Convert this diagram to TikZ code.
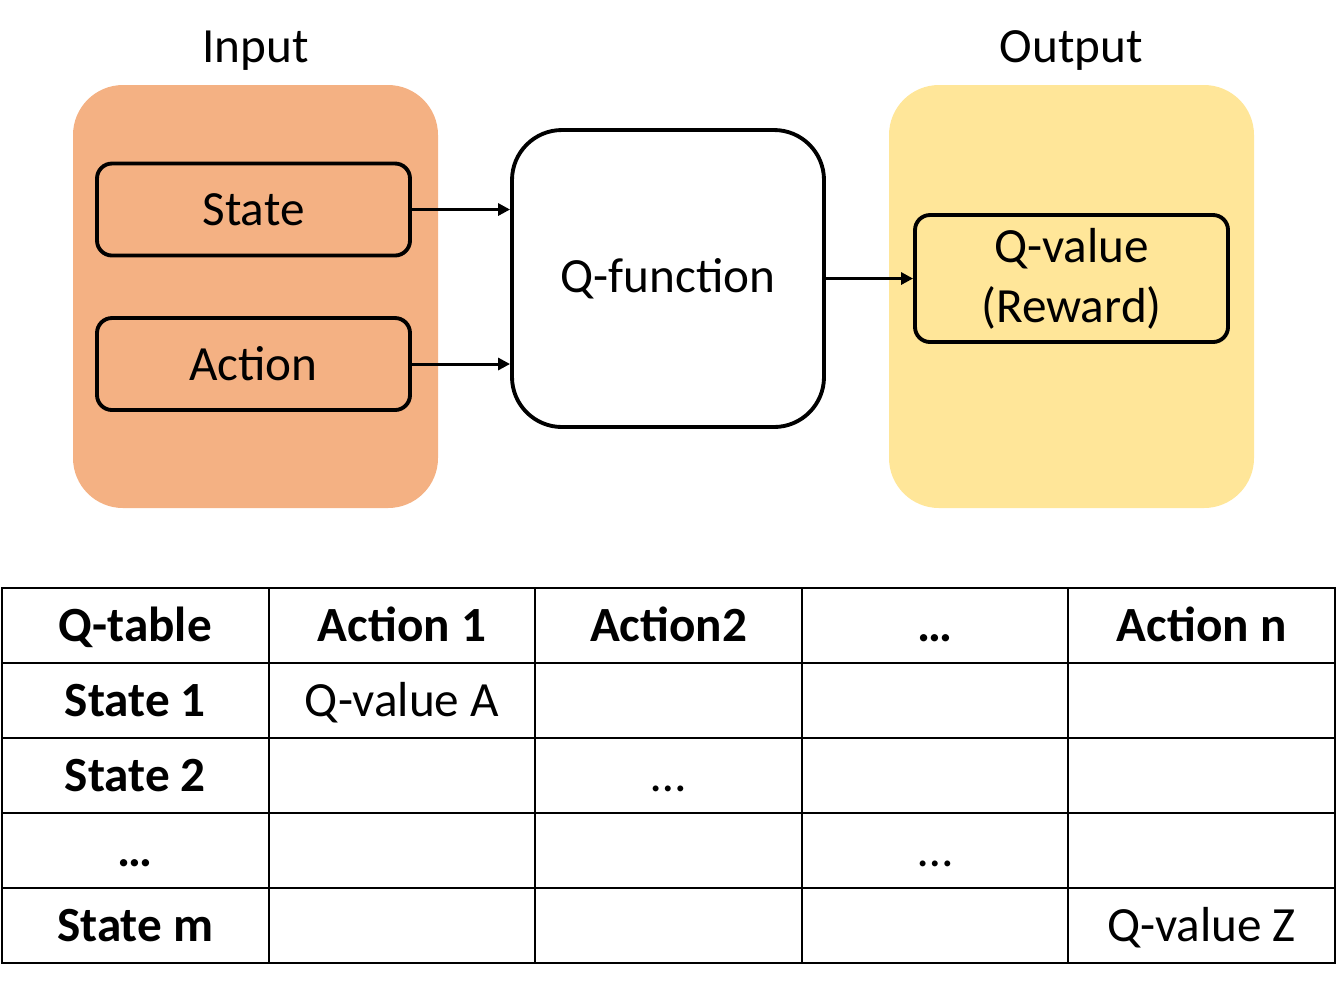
\documentclass[tikz,border=0pt]{standalone}
\usepackage{fontspec}
\setmainfont{Carlito}
\usetikzlibrary{arrows.meta, positioning}

\definecolor{inputorange}{HTML}{F4B183}
\definecolor{outputyellow}{HTML}{FFE699}

\begin{document}
\begin{tikzpicture}[->,>={Triangle[length=3.4pt,width=3.4pt]},line width=0.85pt,
                    every node/.style={font=\fontsize{14}{17}\selectfont},
                    group box/.style={rectangle,rounded corners=0.5cm,minimum width=3.65cm,minimum height=4.23cm},
                    item box/.style={rectangle,draw,line width=1.1pt,rounded corners=0.15cm,
                                     minimum width=3.13cm,minimum height=0.92cm,align=center},
                    cell/.style={rectangle,draw,line width=0.6pt,minimum width=2.666cm,
                                 minimum height=0.75cm,text height=9pt,text depth=0pt}]

  \useasboundingbox (0,0) rectangle (13.37,-9.86);

  % input and output groups
  \node[group box,fill=inputorange] (input) at (2.555,-2.965) {};
  \node[group box,fill=outputyellow] (output) at (10.715,-2.965) {};
  \node[inner sep=0pt] (inputlabel) [above=0.12cm of input] {Input};
  \node[inner sep=0pt] (outputlabel) [above=0.12cm of output] {Output};

  \node[item box,fill=inputorange] (state) at (2.535,-2.095) {State};
  \node[item box,fill=inputorange] (action) at (2.535,-3.64) {Action};
  \node[item box,fill=white,rounded corners=0.5cm,minimum width=3.12cm,minimum height=2.97cm]
       (qfunc) at (6.68,-2.785) {Q-function};
  \node[item box,fill=outputyellow,minimum height=1.27cm] (qvalue) at (10.715,-2.785) {Q-value\\(Reward)};

  \draw (state.east) -- (state.east -| qfunc.west);
  \draw (action.east) -- (action.east -| qfunc.west);
  \draw (qfunc.east) -- (qvalue.west);

  % q-table
  \foreach \rowtext [count=\r from 0] in {
      {Q-table,Action 1,Action2,…,Action n},
      {State 1,Q-value A,{},{},{}},
      {State 2,{},…,{},{}},
      {…,{},{},…,{}},
      {State m,{},{},{},Q-value Z}}
  {
    \foreach \celltext [count=\c from 0] in \rowtext
    {
      \node[cell] (t\r\c) at ({0.02+(\c+0.5)*2.666},{-5.88-(\r+0.5)*0.75})
        {\ifnum\r=0 \bfseries\fi\ifnum\c=0 \bfseries\fi\celltext};
    }
  }
\end{tikzpicture}
\end{document}
